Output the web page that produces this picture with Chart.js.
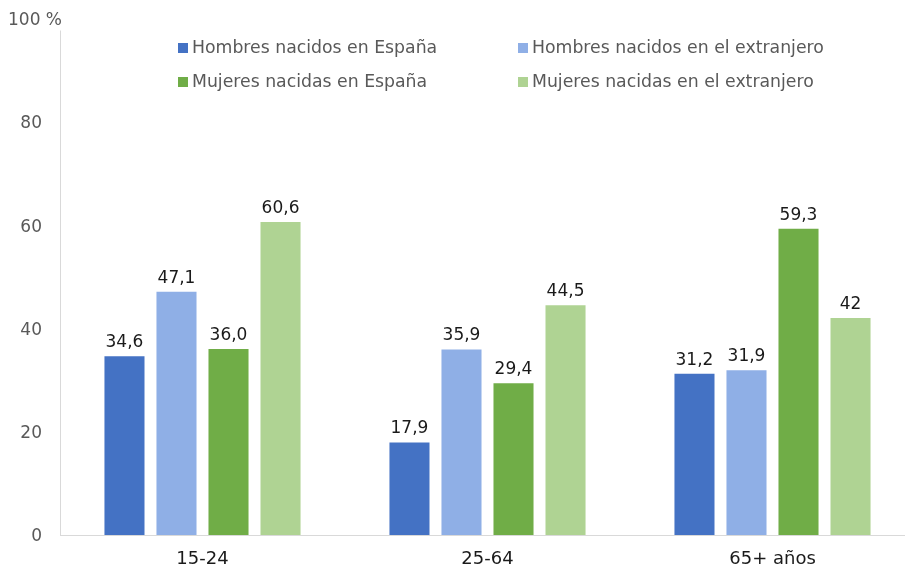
<!DOCTYPE html>
<html>
<head>
<meta charset="utf-8">
<script src="https://cdn.jsdelivr.net/npm/chart.js@4/dist/chart.umd.min.js"></script>
<style>
html,body{margin:0;padding:0;background:#fff;overflow:hidden;}
#wrap{width:920px;height:570px;position:relative;}
</style>
</head>
<body>
<div id="wrap"><canvas id="c" width="920" height="570"></canvas></div>
<script>
const categories = ['15-24', '25-64', '65+ años'];
const seriesNames = ['Hombres nacidos en España', 'Hombres nacidos en el extranjero', 'Mujeres nacidas en España', 'Mujeres nacidas en el extranjero'];
const hombresEspana = [34.6, 17.9, 31.2];
const hombresExtranjero = [47.1, 35.9, 31.9];
const mujeresEspana = [36.0, 29.4, 59.3];
const mujeresExtranjero = [60.6, 44.5, 42];
const valueLabels = [
  ['34,6', '17,9', '31,2'],
  ['47,1', '35,9', '31,9'],
  ['36,0', '29,4', '59,3'],
  ['60,6', '44,5', '42']
];
const yTicks = [0, 20, 40, 60, 80, 100];
const topTickLabel = '100 %';
const colors = ['#4472C4', '#8FAFE6', '#70AD47', '#AFD393'];
const FONT = '"DejaVu Sans", sans-serif';

const seriesValues = [hombresEspana, hombresExtranjero, mujeresEspana, mujeresExtranjero];

const labelPlugin = {
  id: 'valueLabels',
  afterDatasetsDraw(chart) {
    const ctx = chart.ctx;
    ctx.save();
    ctx.font = '17px ' + FONT;
    ctx.fillStyle = '#1a1a1a';
    ctx.textAlign = 'center';
    ctx.textBaseline = 'bottom';
    chart.data.datasets.forEach((ds, i) => {
      const meta = chart.getDatasetMeta(i);
      meta.data.forEach((bar, j) => {
        ctx.fillText(valueLabels[i][j], bar.x, bar.y - 5);
      });
    });
    ctx.restore();
  }
};

const legendPlugin = {
  id: 'customLegend',
  afterDraw(chart) {
    const ctx = chart.ctx;
    ctx.save();
    ctx.font = '17.3px ' + FONT;
    ctx.textBaseline = 'middle';
    ctx.textAlign = 'left';
    const cols = [178, 518];
    const rows = [48, 82];
    [0, 1, 2, 3].forEach((idx, k) => {
      const x = cols[k % 2];
      const y = rows[Math.floor(k / 2)];
      ctx.fillStyle = colors[idx];
      ctx.fillRect(x, y - 5, 10, 10);
      ctx.fillStyle = '#595959';
      ctx.fillText(seriesNames[idx], x + 14, y + 1);
    });
    // top tick label "100 %"
    const ys = chart.scales.y;
    const ty = ys.getPixelForValue(100) + 2;
    ctx.font = '17px ' + FONT;
    ctx.fillStyle = '#ffffff';
    ctx.fillRect(56, ty - 6, 8, 16);
    ctx.fillStyle = '#595959';
    ctx.fillText(topTickLabel, 8, ty);
    ctx.restore();
  }
};

new Chart(document.getElementById('c'), {
  type: 'bar',
  data: {
    labels: categories,
    datasets: seriesValues.map((vals, i) => ({
      label: seriesNames[i],
      data: vals,
      backgroundColor: colors[i],
      borderWidth: 0,
      categoryPercentage: 0.73,
      barPercentage: 0.77
    }))
  },
  options: {
    responsive: false,
    animation: false,
    layout: { padding: { top: 17, right: 5, left: 0, bottom: 0 } },
    plugins: { legend: { display: false }, tooltip: { enabled: false } },
    scales: {
      x: {
        grid: { display: false },
        border: { display: true, color: '#d9d9d9', width: 1 },
        ticks: { color: '#1a1a1a', font: { family: FONT, size: 18 }, padding: 6 },
        afterFit(s) { s.height = 35; }
      },
      y: {
        min: 0, max: 100,
        afterBuildTicks(s) { s.ticks = yTicks.map(v => ({ value: v })); },
        grid: { display: false },
        border: { display: true, color: '#d9d9d9', width: 1 },
        ticks: {
          color: '#595959', font: { family: FONT, size: 17, lineHeight: 1.0 }, padding: 10,
          labelOffset: 2,
          callback: (v) => (v === 100 ? '' : String(v))
        },
        afterFit(s) { s.width = 60; }
      }
    }
  },
  plugins: [labelPlugin, legendPlugin]
});
</script>
</body>
</html>
